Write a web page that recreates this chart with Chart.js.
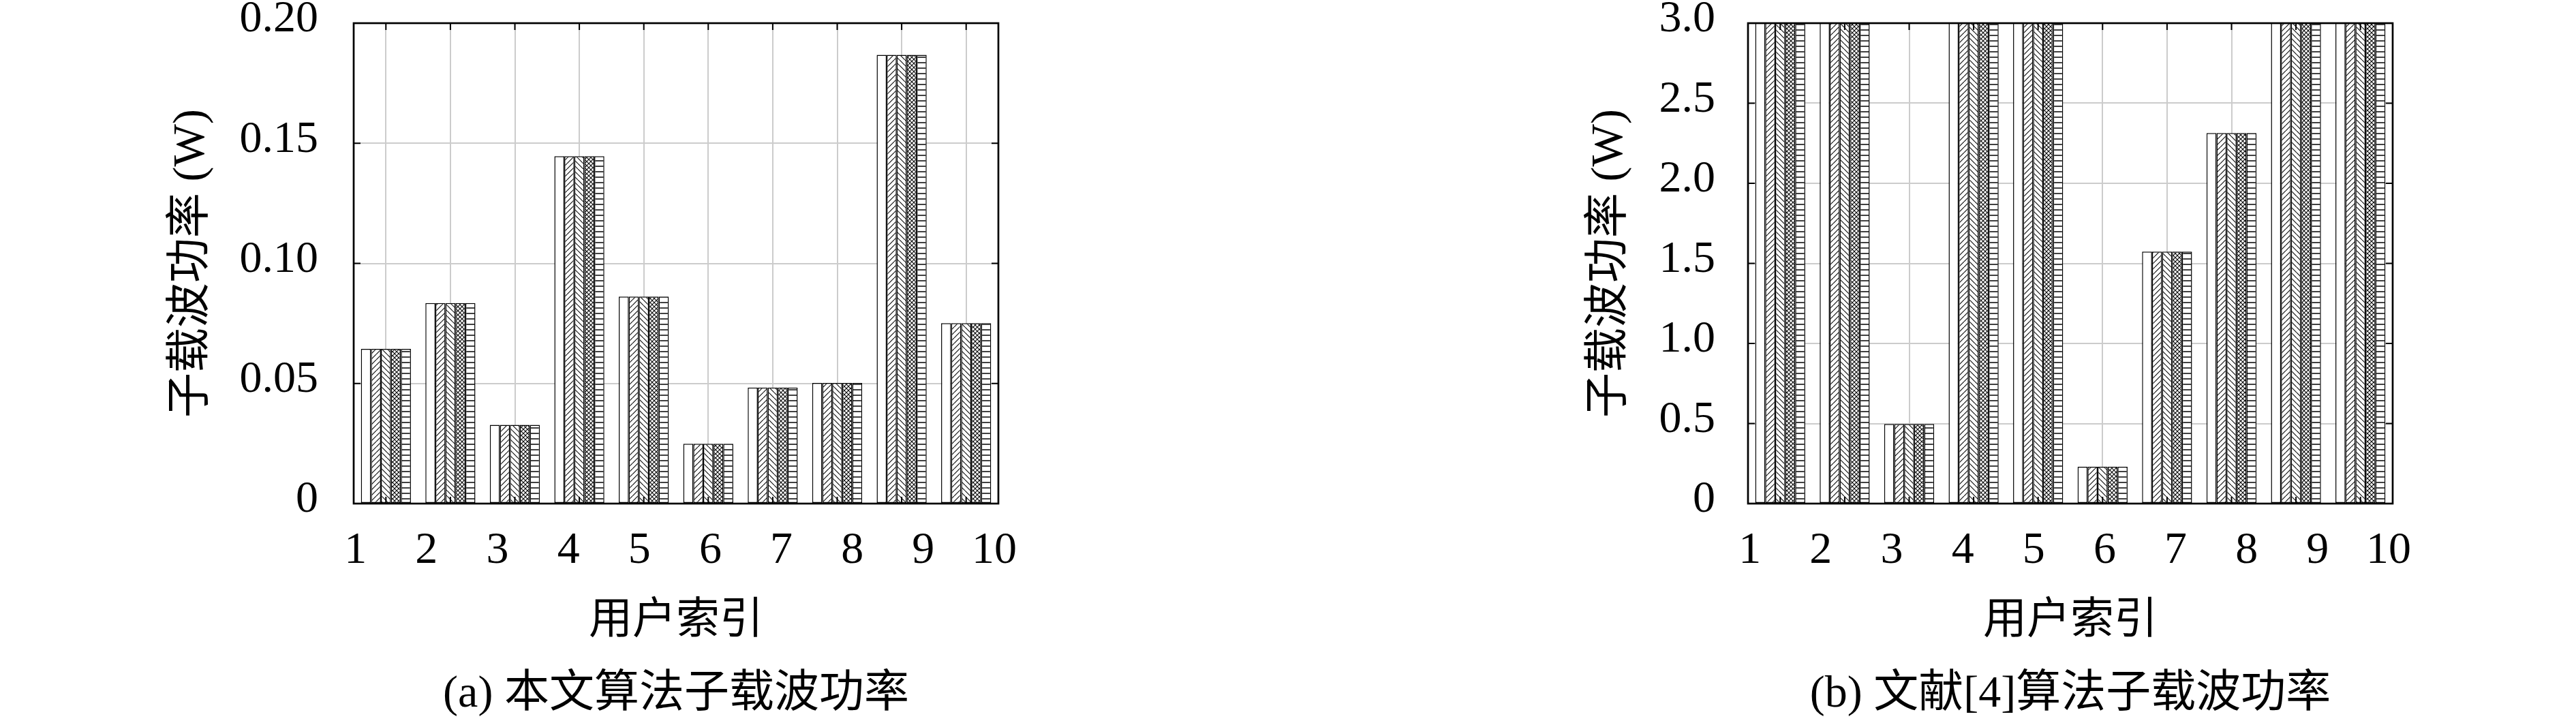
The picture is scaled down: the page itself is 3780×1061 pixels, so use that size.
<!DOCTYPE html>
<html><head><meta charset="utf-8">
<script src="https://cdn.jsdelivr.net/npm/chart.js@4.4.1/dist/chart.umd.min.js"></script>
<style>
html,body{margin:0;padding:0;background:#fff;}
#wrap{position:relative;width:3780px;height:1061px;background:#fff;}
canvas{position:absolute;top:0;}
</style></head><body>
<div id="wrap">
<canvas id="ca" width="1890" height="1061" style="left:0"></canvas>
<canvas id="cb" width="1890" height="1061" style="left:1890px"></canvas>
</div>
<script>
// ---------- data ----------
const users = ['1','2','3','4','5','6','7','8','9','10'];
const xTickValues = [1,2,3,4,5,6,7,8,9,10];
const xTickLabels = ['1','2','3','4','5','6','7','8','9','10'];
const seriesNames = ['子载波1','子载波2','子载波3','子载波4','子载波5'];

// (a) proposed algorithm, subcarrier power (W)
const oursSub1 = [0.0644,0.0835,0.0328,0.1446,0.0862,0.0249,0.0483,0.0502,0.1868,0.0751];
const oursSub2 = [0.0644,0.0835,0.0328,0.1446,0.0862,0.0249,0.0483,0.0502,0.1868,0.0751];
const oursSub3 = [0.0644,0.0835,0.0328,0.1446,0.0862,0.0249,0.0483,0.0502,0.1868,0.0751];
const oursSub4 = [0.0644,0.0835,0.0328,0.1446,0.0862,0.0249,0.0483,0.0502,0.1868,0.0751];
const oursSub5 = [0.0644,0.0835,0.0328,0.1446,0.0862,0.0249,0.0483,0.0502,0.1868,0.0751];

// (b) reference [4] algorithm (values above 3.0 are cut off by the axis; estimated)
const refSub1 = [4.0,4.0,0.497,4.0,4.0,0.23,1.573,2.314,4.0,4.0];
const refSub2 = [4.0,4.0,0.497,4.0,4.0,0.23,1.573,2.314,4.0,4.0];
const refSub3 = [4.0,4.0,0.497,4.0,4.0,0.23,1.573,2.314,4.0,4.0];
const refSub4 = [4.0,4.0,0.497,4.0,4.0,0.23,1.573,2.314,4.0,4.0];
const refSub5 = [4.0,4.0,0.497,4.0,4.0,0.23,1.573,2.314,4.0,4.0];

const yTicksA = [0,0.05,0.10,0.15,0.20];
const yTickLabelsA = ['0','0.05','0.10','0.15','0.20'];
const yTicksB = [0,0.5,1.0,1.5,2.0,2.5,3.0];
const yTickLabelsB = ['0','0.5','1.0','1.5','2.0','2.5','3.0'];

const yTitle = '子载波功率 (W)';
const xTitle = '用户索引';
const captionA = '(a) 本文算法子载波功率';
const captionB = '(b) 文献[4]算法子载波功率';

// ---------- styling ----------
Chart.defaults.font.family = "'Liberation Serif', 'Noto Sans CJK SC', serif";
Chart.defaults.color = '#000';

function makePattern(kind){
  if(kind==='white') return '#ffffff';
  const T = kind==='cross' ? 6 : 8;
  const c = document.createElement('canvas'); c.width=T; c.height=T;
  const g = c.getContext('2d');
  g.fillStyle='#fff'; g.fillRect(0,0,T,T);
  g.strokeStyle='#111'; g.lineWidth=1.2;
  const diag=(dir)=>{
    g.beginPath();
    for(const o of [-T,0,T]){
      if(dir>0){ g.moveTo(o,T); g.lineTo(o+T,0); }
      else { g.moveTo(o,0); g.lineTo(o+T,T); }
    }
    g.stroke();
  };
  if(kind==='fwd') diag(1);
  if(kind==='back') diag(-1);
  if(kind==='cross'){ diag(1); diag(-1); }
  if(kind==='hline'){ g.lineWidth=1.6; g.beginPath(); g.moveTo(0,4); g.lineTo(T,4); g.stroke(); }
  return g.createPattern(c,'repeat');
}
const fills = ['white','fwd','back','cross','hline'].map(makePattern);

const framePlugin = {
  id:'frame',
  afterDatasetsDraw(chart){
    const {ctx, chartArea:a, scales} = chart;
    ctx.save();
    ctx.strokeStyle='#000'; ctx.lineWidth=2;
    const tl=10;
    ctx.beginPath();
    scales.y.ticks.forEach(t=>{
      const y=scales.y.getPixelForValue(t.value);
      ctx.moveTo(a.left,y); ctx.lineTo(a.left+tl,y);
      ctx.moveTo(a.right,y); ctx.lineTo(a.right-tl,y);
    });
    scales.x.ticks.forEach((t,i)=>{
      const x=scales.x.getPixelForTick(i);
      ctx.moveTo(x,a.bottom); ctx.lineTo(x,a.bottom-tl);
      ctx.moveTo(x,a.top); ctx.lineTo(x,a.top+tl);
    });
    ctx.stroke();
    ctx.lineWidth=2.7;
    ctx.strokeRect(a.left,a.top,a.right-a.left,a.bottom-a.top);
    ctx.restore();
  }
};

function build(id, cfg){
  return new Chart(document.getElementById(id), {
    type:'bar',
    data:{
      labels: users,
      datasets: cfg.series.map((d,i)=>({
        label: seriesNames[i], data: d, xAxisID:'x', yAxisID:'y',
        backgroundColor: fills[i], borderColor:'#000', borderWidth:1.5,
        borderSkipped:false, categoryPercentage:0.775, barPercentage:1, clip:0
      }))
    },
    options:{
      responsive:false, animation:false, devicePixelRatio:1,
      layout:{padding:{left:cfg.padLeft, right:cfg.padRight, top:34, bottom:1.4}},
      plugins:{
        legend:{display:false}, tooltip:{enabled:false},
        title:{display:true, text:cfg.caption, position:'bottom', fullSize:false, padding:0,
               font:{size:66, weight:'normal'}, color:'#000'}
      },
      scales:{
        x:{
          type:'category', position:'bottom', offset:true, weight:0,
          grid:{offset:false, color:'#cccccc', lineWidth:2, drawTicks:false},
          border:{display:false}, ticks:{display:false},
          afterFit:s=>{ s.height=0; s.paddingLeft=0; s.paddingRight=0; }
        },
        xl:{
          type:'linear', position:'bottom', weight:1, min:0.974, max:10.058, offset:false,
          grid:{display:false, drawTicks:false, offset:false}, border:{display:false},
          afterBuildTicks:s=>{ s.ticks = xTickValues.map(v=>({value:v})); },
          ticks:{padding:30.4, font:{size:66}, color:'#000', maxRotation:0, autoSkip:false,
                 callback:(v,i)=>xTickLabels[i]},
          title:{display:true, text:xTitle, font:{size:64}, color:'#000', padding:{top:0,bottom:30}},
          afterFit:s=>{ s.height=241.4; s.paddingLeft=0; s.paddingRight=0; }
        },
        y:{
          type:'linear', position:'left', min:cfg.yTicks[0], max:cfg.yTicks[cfg.yTicks.length-1],
          afterBuildTicks:s=>{ s.ticks = cfg.yTicks.map(v=>({value:v})); },
          ticks:{padding:cfg.yPad, labelOffset:-5, font:{size:66}, color:'#000',
                 callback:(v,i)=>cfg.yLabels[i]},
          grid:{color:'#cccccc', lineWidth:2, drawTicks:false}, border:{display:false},
          title:{display:true, text:yTitle, font:{size:66}, color:'#000', padding:0},
          afterFit:s=>{ s.width=cfg.yWidth; s.paddingTop=0; s.paddingBottom=0; }
        }
      }
    },
    plugins:[framePlugin]
  });
}

build('ca', {
  series:[oursSub1,oursSub2,oursSub3,oursSub4,oursSub5],
  yTicks:yTicksA, yLabels:yTickLabelsA, caption:captionA,
  padLeft:242.4, yWidth:276.6, padRight:425, yPad:52
});
build('cb', {
  series:[refSub1,refSub2,refSub3,refSub4,refSub5],
  yTicks:yTicksB, yLabels:yTickLabelsB, caption:captionB,
  padLeft:433.4, yWidth:241.6, padRight:269, yPad:48
});
</script>
</body></html>
